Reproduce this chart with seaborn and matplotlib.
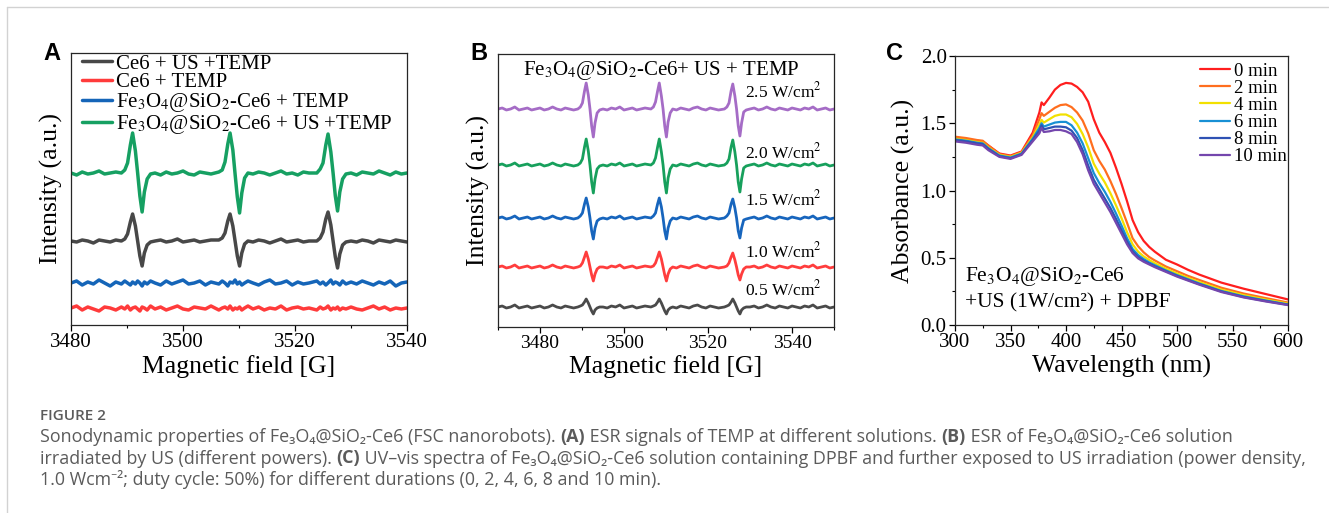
import matplotlib
matplotlib.use("Agg")
import matplotlib.pyplot as plt
from matplotlib.lines import Line2D
from matplotlib.ticker import MultipleLocator, FormatStrFormatter
import pandas as pd
import seaborn as sns

# ---------------- panel A: ESR of TEMP in different solutions ----------------
field_a = [3480, 3481, 3482, 3483, 3484, 3485, 3486, 3487, 3488,
           3489.0, 3489.6, 3490.1, 3490.6, 3491.0, 3491.5, 3491.9, 3492.3, 3492.7, 3493.1, 3493.6, 3494.2,
           3495, 3496, 3497, 3498, 3499, 3500, 3501, 3502, 3503, 3504, 3505,
           3506.4, 3507.0, 3507.5, 3508.0, 3508.4, 3508.9, 3509.3, 3509.7, 3510.1, 3510.5, 3511.0, 3511.6,
           3512.5, 3513.5, 3514.5, 3515.5, 3516.5, 3517.5, 3518.5, 3519.5, 3520.5, 3521.5, 3522.5,
           3523.9, 3524.5, 3525.0, 3525.5, 3525.9, 3526.4, 3526.8, 3527.2, 3527.6, 3528.0, 3528.5, 3529.1,
           3530, 3531, 3532, 3533, 3534, 3535, 3536, 3537, 3538, 3539, 3540]

ce6_us = [84, 83, 85, 84, 82, 85, 84, 83, 85,
          84, 86, 91, 103, 111, 99, 84, 69, 59, 72, 80, 83,
          84, 85, 83, 84, 86, 83, 84, 85, 83, 84, 85,
          85, 87, 92, 104, 111, 99, 84, 69, 59, 72, 81, 84,
          83, 85, 84, 82, 84, 86, 83, 84, 85, 83, 84,
          84, 87, 93, 106, 113, 100, 84, 68, 57, 71, 80, 83,
          84, 83, 85, 84, 82, 85, 84, 83, 85, 84, 83]
ce6 = [17, 19, 15, 18, 16, 14, 18, 17, 15,
       18, 16, 19, 15, 17, 18, 16, 14, 18, 17, 15, 19,
       16, 18, 15, 17, 19, 16, 15, 18, 17, 16, 19,
       15, 17, 18, 16, 19, 15, 17, 16, 18, 15, 17, 19,
       16, 18, 15, 17, 16, 19, 15, 17, 18, 16, 17,
       15, 18, 16, 17, 19, 15, 17, 16, 18, 15, 17, 16,
       18, 16, 15, 17, 19, 16, 18, 15, 17, 16, 17]
fsc = [42, 44, 40, 43, 41, 45, 42, 39, 43,
       41, 44, 42, 40, 43, 41, 44, 42, 39, 43, 41, 44,
       42, 40, 44, 41, 43, 45, 41, 42, 44, 40, 43,
       41, 44, 42, 39, 43, 42, 45, 41, 43, 40, 42, 44,
       42, 40, 43, 45, 41, 42, 44, 40, 43, 41, 42,
       44, 41, 43, 40, 42, 45, 41, 43, 42, 40, 44, 41,
       43, 41, 44, 42, 40, 43, 41, 44, 39, 42, 43]
fsc_us = [152, 150, 153, 151, 152, 154, 151, 152, 153,
          152, 155, 162, 180, 192, 174, 152, 129, 113, 133, 146, 151,
          152, 150, 153, 151, 152, 154, 151, 150, 153, 152, 151,
          153, 155, 163, 181, 192, 175, 151, 128, 112, 132, 147, 152,
          151, 153, 152, 150, 152, 154, 151, 152, 150, 153, 152,
          152, 156, 162, 180, 191, 173, 152, 129, 114, 133, 146, 151,
          152, 150, 153, 152, 151, 154, 152, 150, 153, 151, 152]

labels_a = ["Ce6 + US +TEMP", "Ce6 + TEMP",
            "Fe$_3$O$_4$@SiO$_2$-Ce6 + TEMP", "Fe$_3$O$_4$@SiO$_2$-Ce6 + US +TEMP"]
colors_a = ["#484848", "#ff3b3b", "#1565b8", "#16a062"]

# ---------------- panel B: ESR at different US powers ----------------
field_b = [3470, 3471, 3472, 3473, 3474, 3475, 3476, 3477, 3478, 3479] + field_a + \
          [3541, 3542, 3543, 3544, 3545, 3546, 3547, 3548, 3549, 3550]

p25 = [218, 219, 217, 218, 220, 217, 218, 219, 217, 218,
       219, 217, 218, 220, 218, 217, 219, 218, 217,
       218, 220, 224, 236, 244, 232, 218, 201, 190, 204, 214, 217,
       218, 217, 219, 218, 220, 217, 218, 219, 217, 218, 219,
       218, 220, 225, 236, 244, 231, 218, 201, 190, 205, 214, 218,
       217, 219, 218, 217, 219, 220, 218, 217, 219, 218, 217,
       218, 220, 224, 236, 243, 231, 218, 201, 191, 204, 215, 217,
       218, 219, 217, 218, 220, 218, 217, 219, 218, 217, 219,
       218, 217, 219, 218, 220, 217, 218, 219, 217, 218]
p20 = [162, 163, 161, 162, 164, 161, 162, 163, 161, 162,
       163, 161, 162, 164, 162, 161, 163, 162, 161,
       162, 164, 168, 180, 188, 176, 162, 145, 134, 148, 158, 161,
       162, 161, 163, 162, 164, 161, 162, 163, 161, 162, 163,
       162, 164, 169, 180, 188, 175, 162, 145, 134, 149, 158, 162,
       161, 163, 162, 161, 163, 164, 162, 161, 163, 162, 161,
       162, 164, 168, 180, 187, 175, 162, 145, 135, 148, 159, 161,
       162, 163, 161, 162, 164, 162, 161, 163, 162, 161, 163,
       162, 161, 163, 162, 164, 161, 162, 163, 161, 162]
p15 = [109, 110, 108, 109, 111, 108, 109, 110, 108, 109,
       110, 108, 109, 111, 109, 108, 110, 109, 108,
       109, 111, 114, 123, 129, 120, 109, 96, 88, 99, 106, 108,
       109, 108, 110, 109, 111, 108, 109, 110, 108, 109, 110,
       109, 111, 114, 123, 129, 120, 109, 96, 88, 99, 106, 109,
       108, 110, 109, 108, 110, 111, 109, 108, 110, 109, 108,
       109, 111, 114, 123, 128, 119, 109, 96, 89, 99, 107, 108,
       109, 110, 108, 109, 111, 109, 108, 110, 109, 108, 110,
       109, 108, 110, 109, 111, 108, 109, 110, 108, 109]
p10 = [60, 61, 59, 60, 62, 59, 60, 61, 59, 60,
       61, 59, 60, 62, 60, 59, 61, 60, 59,
       60, 61, 64, 70, 75, 68, 60, 52, 46, 53, 58, 60,
       60, 59, 61, 60, 62, 59, 60, 61, 59, 60, 61,
       60, 61, 64, 70, 75, 68, 60, 52, 46, 53, 58, 60,
       59, 61, 60, 59, 61, 62, 60, 59, 61, 60, 59,
       60, 61, 64, 70, 74, 67, 60, 52, 47, 53, 58, 60,
       60, 61, 59, 60, 62, 60, 59, 61, 60, 59, 61,
       60, 59, 61, 60, 62, 59, 60, 61, 59, 60]
p05 = [20, 21, 19, 20, 22, 19, 20, 21, 19, 20,
       21, 19, 20, 22, 20, 19, 21, 20, 19,
       20, 21, 22, 25, 28, 24, 20, 16, 13, 17, 19, 20,
       20, 19, 21, 20, 22, 19, 20, 21, 19, 20, 21,
       20, 21, 22, 25, 28, 24, 20, 16, 13, 17, 19, 20,
       19, 21, 20, 19, 21, 22, 20, 19, 21, 20, 19,
       20, 21, 22, 25, 28, 24, 20, 16, 13, 17, 19, 20,
       20, 21, 19, 20, 22, 20, 19, 21, 20, 19, 21,
       20, 19, 21, 20, 22, 19, 20, 21, 19, 20]

powers_b = ["2.5 W/cm$^2$", "2.0 W/cm$^2$", "1.5 W/cm$^2$", "1.0 W/cm$^2$", "0.5 W/cm$^2$"]
colors_b = ["#a56cc6", "#17a05c", "#1765bd", "#ff3d3d", "#4a4a4a"]

# ---------------- panel C: DPBF absorbance vs irradiation time ----------------
wavelength = [300, 310, 320, 325, 330, 340, 350, 360, 370, 376, 378, 380, 385, 390, 395, 400,
              405, 410, 415, 420, 425, 430, 435, 440, 445, 450, 455, 460, 465, 470, 475, 480,
              490, 500, 510, 520, 540, 560, 580, 600]
abs_0 = [1.39, 1.38, 1.37, 1.365, 1.335, 1.275, 1.26, 1.29, 1.43, 1.58, 1.655, 1.635, 1.69, 1.75, 1.785, 1.80,
         1.795, 1.77, 1.73, 1.66, 1.53, 1.43, 1.36, 1.28, 1.17, 1.05, 0.92, 0.78, 0.69, 0.625, 0.58, 0.545,
         0.485, 0.45, 0.41, 0.375, 0.315, 0.27, 0.23, 0.19]
abs_2 = [1.40, 1.39, 1.375, 1.37, 1.335, 1.27, 1.255, 1.285, 1.41, 1.53, 1.575, 1.555, 1.585, 1.615, 1.635, 1.64,
         1.62, 1.58, 1.52, 1.425, 1.30, 1.22, 1.155, 1.07, 0.975, 0.87, 0.76, 0.645, 0.585, 0.54, 0.505, 0.48,
         0.435, 0.40, 0.365, 0.335, 0.277, 0.234, 0.20, 0.167]
abs_4 = [1.385, 1.375, 1.36, 1.355, 1.32, 1.265, 1.25, 1.28, 1.395, 1.49, 1.525, 1.505, 1.53, 1.555, 1.565, 1.565,
         1.545, 1.495, 1.42, 1.32, 1.20, 1.125, 1.06, 0.98, 0.89, 0.795, 0.69, 0.60, 0.545, 0.51, 0.483, 0.46,
         0.418, 0.383, 0.35, 0.319, 0.263, 0.222, 0.189, 0.159]
abs_6 = [1.38, 1.37, 1.355, 1.35, 1.315, 1.26, 1.245, 1.275, 1.385, 1.465, 1.50, 1.475, 1.49, 1.505, 1.51, 1.51,
         1.485, 1.43, 1.35, 1.24, 1.13, 1.055, 0.99, 0.915, 0.83, 0.74, 0.645, 0.565, 0.52, 0.49, 0.465, 0.445,
         0.406, 0.371, 0.34, 0.309, 0.253, 0.213, 0.182, 0.153]
abs_8 = [1.375, 1.365, 1.35, 1.345, 1.31, 1.255, 1.24, 1.27, 1.375, 1.445, 1.485, 1.455, 1.465, 1.475, 1.475, 1.47,
         1.445, 1.39, 1.30, 1.185, 1.08, 1.01, 0.94, 0.87, 0.79, 0.705, 0.62, 0.547, 0.505, 0.478, 0.456, 0.436,
         0.40, 0.365, 0.334, 0.304, 0.249, 0.208, 0.178, 0.15]
abs_10 = [1.365, 1.355, 1.34, 1.335, 1.30, 1.25, 1.235, 1.265, 1.365, 1.425, 1.465, 1.435, 1.44, 1.45, 1.45, 1.44,
          1.42, 1.36, 1.27, 1.15, 1.05, 0.98, 0.91, 0.84, 0.76, 0.68, 0.60, 0.535, 0.495, 0.47, 0.45, 0.43,
          0.395, 0.36, 0.33, 0.30, 0.245, 0.205, 0.175, 0.148]
times_c = ["0 min", "2 min", "4 min", "6 min", "8 min", "10 min"]
colors_c = ["#ff1e1e", "#ff6e1e", "#f2e000", "#1890d4", "#2f52b4", "#7446ad"]

# ---------------- style ----------------
sns.set_style("ticks")
plt.rcParams["font.family"] = ["Liberation Serif", "DejaVu Serif"]
plt.rcParams["mathtext.fontset"] = "stix"
plt.rcParams["text.color"] = "black"
plt.rcParams["axes.labelcolor"] = "black"
plt.rcParams["xtick.color"] = "black"
plt.rcParams["ytick.color"] = "black"
plt.rcParams["axes.edgecolor"] = "#262626"
plt.rcParams["axes.linewidth"] = 0.9

W, H = 1329, 513
fig = plt.figure(figsize=(W / 100, H / 100), dpi=100)


def box(left, top, right, bottom):
    return [left / W, 1 - bottom / H, (right - left) / W, (bottom - top) / H]


def style_x(ax, major, minor, size):
    ax.xaxis.set_major_locator(MultipleLocator(major))
    ax.xaxis.set_minor_locator(MultipleLocator(minor))
    ax.tick_params(axis="x", which="major", direction="out", length=4, width=0.9, labelsize=size, pad=2)
    ax.tick_params(axis="x", which="minor", direction="out", length=2.5, width=0.8)


ax_a = fig.add_axes(box(71, 53, 407, 325))
ax_b = fig.add_axes(box(498, 54, 834, 327))
ax_c = fig.add_axes(box(955, 56, 1288, 325))

# panel A
df_a = pd.concat([pd.DataFrame({"field": field_a, "intensity": ys, "sample": lab})
                  for lab, ys in zip(labels_a, [ce6_us, ce6, fsc, fsc_us])])
sns.lineplot(data=df_a, x="field", y="intensity", hue="sample", hue_order=labels_a,
             palette=colors_a, estimator=None, sort=False, linewidth=2.5, legend=False, ax=ax_a)
ax_a.set_xlim(3480, 3540)
ax_a.set_ylim(0, 272)
ax_a.set_yticks([])
style_x(ax_a, 20, 10, 15)
ax_a.set_xlabel("Magnetic field [G]", fontsize=18.5, labelpad=2)
ax_a.set_ylabel("Intensity (a.u.)", fontsize=18.5, labelpad=6)
handles_a = [Line2D([], [], color=c, lw=2.5) for c in colors_a]
ax_a.legend(handles_a, labels_a, loc="upper left", bbox_to_anchor=(0.03, 1.0), frameon=False,
            fontsize=15, handlelength=1.45, handletextpad=0.2, labelspacing=-0.05,
            borderaxespad=0.0, borderpad=0.05)

# panel B
df_b = pd.concat([pd.DataFrame({"field": field_b, "intensity": ys, "power": lab})
                  for lab, ys in zip(powers_b, [p25, p20, p15, p10, p05])])
sns.lineplot(data=df_b, x="field", y="intensity", hue="power", hue_order=powers_b,
             palette=colors_b, estimator=None, sort=False, linewidth=2.0, legend=False, ax=ax_b)
ax_b.set_xlim(3470, 3550)
ax_b.set_ylim(0, 273)
ax_b.set_yticks([])
style_x(ax_b, 20, 10, 14)
ax_b.set_xlabel("Magnetic field [G]", fontsize=18.5, labelpad=2)
ax_b.set_ylabel("Intensity (a.u.)", fontsize=18.5, labelpad=6)
ax_b.text(0.485, 0.923, "Fe$_3$O$_4$@SiO$_2$-Ce6+ US + TEMP", transform=ax_b.transAxes,
          ha="center", va="baseline", fontsize=15)
for lab, yb in zip(powers_b, [97, 158, 205, 257, 295]):
    ax_b.text(0.735, (327 - yb) / 273, lab, transform=ax_b.transAxes,
              ha="left", va="baseline", fontsize=12.5)

# panel C
df_c = pd.concat([pd.DataFrame({"wavelength": wavelength, "absorbance": ys, "time": lab})
                  for lab, ys in zip(times_c, [abs_0, abs_2, abs_4, abs_6, abs_8, abs_10])])
sns.lineplot(data=df_c, x="wavelength", y="absorbance", hue="time", hue_order=times_c,
             palette=colors_c, estimator=None, sort=False, linewidth=1.6, legend=False, ax=ax_c)
ax_c.set_xlim(300, 600)
ax_c.set_ylim(0, 2.0)
style_x(ax_c, 50, 25, 15)
ax_c.yaxis.set_major_locator(MultipleLocator(0.5))
ax_c.yaxis.set_minor_locator(MultipleLocator(0.25))
ax_c.yaxis.set_major_formatter(FormatStrFormatter("%.1f"))
ax_c.tick_params(axis="y", which="major", direction="out", length=4, width=0.9, labelsize=15, pad=2)
ax_c.tick_params(axis="y", which="minor", direction="out", length=2.5, width=0.8)
ax_c.set_xlabel("Wavelength (nm)", fontsize=18.5, labelpad=2)
ax_c.set_ylabel("Absorbance (a.u.)", fontsize=18.5, labelpad=4)
handles_c = [Line2D([], [], color=c, lw=1.6) for c in colors_c]
ax_c.legend(handles_c, times_c, loc="upper right", bbox_to_anchor=(1.015, 1.0), frameon=False,
            fontsize=13.5, handlelength=1.6, handletextpad=0.2, labelspacing=0.0,
            borderaxespad=0.0, borderpad=0.35)
ax_c.text(0.03, (325 - 281) / 269, "Fe$_3$O$_4$@SiO$_2$-Ce6", transform=ax_c.transAxes,
          ha="left", va="baseline", fontsize=15.5)
ax_c.text(0.03, (325 - 307) / 269, "+US (1W/cm²) + DPBF", transform=ax_c.transAxes,
          ha="left", va="baseline", fontsize=15.5)

# panel letters
for letter, xl in zip(["A", "B", "C"], [43, 470, 886]):
    fig.text(xl / W, 1 - 60 / H, letter, family=["Liberation Sans", "DejaVu Sans"],
             fontweight="bold", fontsize=17, va="baseline")

# page frame lines
fig.add_artist(Line2D([7 / W, 1], [1 - 7 / H, 1 - 7 / H], transform=fig.transFigure,
                      color="#d2d2d2", lw=1))
fig.add_artist(Line2D([7 / W, 7 / W], [0, 1 - 7 / H], transform=fig.transFigure,
                      color="#d2d2d2", lw=1))

# caption
cap_ax = fig.add_axes([0, 0, 1, 1], zorder=-1)
cap_ax.set_axis_off()
cap_font = ["Open Sans", "Noto Sans", "DejaVu Sans"]
cap_color = "#5b5b5b"

cap_ax.text(40 / W, 1 - 420 / H, "FIGURE 2", transform=fig.transFigure, family=cap_font,
            fontweight="semibold", fontsize=11, color=cap_color, va="baseline")

caption_lines = [
    (442, [("Sonodynamic properties of Fe₃O₄@SiO₂-Ce6 (FSC nanorobots). ", False), ("(A)", True),
           (" ESR signals of TEMP at different solutions. ", False), ("(B)", True),
           (" ESR of Fe₃O₄@SiO₂-Ce6 solution", False)]),
    (463.5, [("irradiated by US (different powers). ", False), ("(C)", True),
             (" UV–vis spectra of Fe₃O₄@SiO₂-Ce6 solution containing DPBF and further exposed to US "
              "irradiation (power density,", False)]),
    (485, [("1.0 Wcm⁻²; duty cycle: 50%) for different durations (0, 2, 4, 6, 8 and 10 min).", False)]),
]
for y_px, parts in caption_lines:
    yf = 1 - y_px / H
    prev = None
    for text, bold in parts:
        kw = dict(family=cap_font, fontsize=12.9, color=cap_color, va="baseline", ha="left",
                  fontweight="bold" if bold else "normal")
        if prev is None:
            prev = cap_ax.text(40 / W, yf, text, transform=fig.transFigure, **kw)
        else:
            prev = cap_ax.annotate(text, xy=(1, yf), xycoords=(prev, "figure fraction"), **kw)

fig.savefig("out.png", dpi=100)
